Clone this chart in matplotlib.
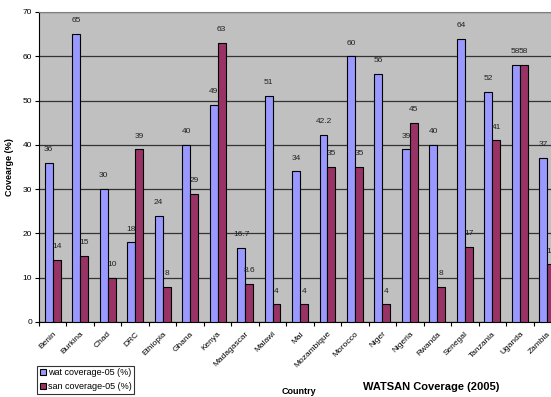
import numpy as np
import matplotlib
matplotlib.use('Agg')
import matplotlib.pyplot as plt

plt.rcParams['font.family'] = ['Liberation Sans', 'DejaVu Sans']

countries = ['Benin', 'Burkina', 'Chad', 'DRC', 'Ethiopia', 'Ghana', 'Kenya',
             'Madagascar', 'Malawi', 'Mal', 'Mozambique', 'Morocco', 'Niger',
             'Nigeria', 'Rwanda', 'Senegal', 'Tanzania', 'Uganda', 'Zambia']
wat = [36, 65, 30, 18, 24, 40, 49, 16.7, 51, 34, 42.2, 60, 56, 39, 40, 64, 52, 58, 37]
san = [14, 15, 10, 39, 8, 29, 63, 8.6, 4, 4, 35, 35, 4, 45, 8, 17, 41, 58, 13]

W, H = 551, 397
fig = plt.figure(figsize=(W / 100, H / 100), dpi=100)
# plot area runs past the right edge, so the last group is cut
ax = fig.add_axes([39 / W, 1 - 322 / H, 522 / W, 310 / H])
ax.set_facecolor('#c0c0c0')

x = np.arange(len(countries)) + 0.5
bw = 0.29
b1 = ax.bar(x - bw / 2, wat, bw, color='#9999ff', edgecolor='black', linewidth=0.8,
            label='wat coverage-05 (%)', zorder=3)
b2 = ax.bar(x + bw / 2, san, bw, color='#993366', edgecolor='black', linewidth=0.8,
            label='san coverage-05 (%)', zorder=3)

for bars, vals in ((b1, wat), (b2, san)):
    for r, v in zip(bars, vals):
        ax.text(r.get_x() + r.get_width() / 2, v + 2.2, f'{v:g}', ha='center',
                va='bottom', fontsize=6, color='#222222', zorder=4)

ax.set_xlim(0, len(countries))
ax.set_ylim(0, 70)
ax.set_yticks(range(0, 71, 10))
ax.yaxis.grid(True, color='#333333', linewidth=0.9, zorder=1)
ax.set_xticks(np.arange(len(countries) + 1))
ax.set_xticklabels([])
ax.set_xticks(x, minor=True)
ax.set_xticklabels(countries, minor=True, rotation=45, ha='right',
                   rotation_mode='anchor', fontsize=6)
ax.tick_params(axis='x', which='minor', length=0, pad=6)
ax.tick_params(axis='x', which='major', length=3, width=0.8)
ax.tick_params(axis='y', length=3, width=0.8, labelsize=6, pad=2)
for s in ('top', 'right'):
    ax.spines[s].set_color('#808080')
ax.spines['left'].set_color('black')
ax.spines['bottom'].set_color('black')

ax.set_ylabel('Covearge (%)', fontsize=6.5, fontweight='bold', labelpad=6)

fig.text(299 / W, 1 - 392 / H, 'Country', fontsize=6.5, fontweight='bold',
         ha='center', va='center')
fig.text(431 / W, 1 - 387 / H, 'WATSAN Coverage (2005)', fontsize=8,
         fontweight='bold', ha='center', va='center')

leg = fig.legend(handles=[b1, b2], loc='lower left',
                 bbox_to_anchor=(37 / W, 1 - 394 / H), fontsize=6.5,
                 frameon=True, fancybox=False, borderpad=0.3,
                 handlelength=0.7, handleheight=0.7, handletextpad=0.2,
                 labelspacing=0.55, borderaxespad=0)
leg.get_frame().set_edgecolor('black')
leg.get_frame().set_linewidth(0.8)

fig.savefig('out.png', dpi=100)
